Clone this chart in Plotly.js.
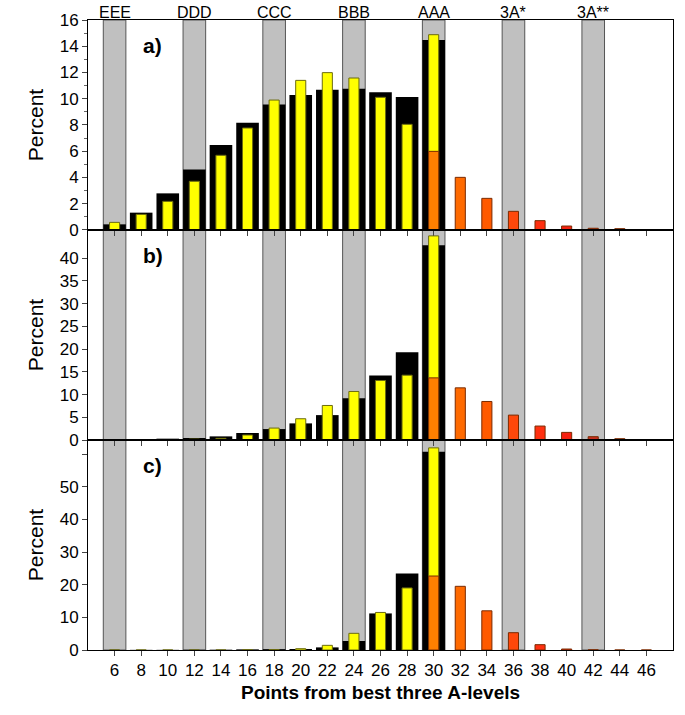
<!DOCTYPE html>
<html>
<head>
<meta charset="utf-8">
<script src="https://cdn.plot.ly/plotly-3.0.1.min.js"></script>
<style>html,body{margin:0;padding:0;background:#fff;}#chart{width:685px;height:715px;}</style>
</head>
<body>
<div id="chart"></div>
<script>
// ---- data ----
const points = [6, 8, 10, 12, 14, 16, 18, 20, 22, 24, 26, 28, 30];
const starPoints = [30, 32, 34, 36, 38, 40, 42, 44, 46];
const bandPoints = [6, 12, 18, 24, 30, 36, 42];
const bandLabels = ['EEE', 'DDD', 'CCC', 'BBB', 'AAA', '3A*', '3A**'];
const xTicks = [6, 8, 10, 12, 14, 16, 18, 20, 22, 24, 26, 28, 30, 32, 34, 36, 38, 40, 42, 44, 46];

const blackA  = [0.43, 1.32, 2.79, 4.6, 6.48, 8.18, 9.57, 10.29, 10.69, 10.77, 10.49, 10.13, 14.48];
const yellowA = [0.58, 1.19, 2.18, 3.71, 5.69, 7.77, 9.9, 11.4, 11.99, 11.58, 10.11, 8.05, 14.88];
const orangeA = [5.99, 4.01, 2.41, 1.42, 0.71, 0.30, 0.13, 0.10, 0];

const blackB  = [0.05, 0.15, 0.3, 0.45, 0.8, 1.54, 2.41, 3.66, 5.48, 9.21, 14.19, 19.3, 42.85];
const yellowB = [0, 0.05, 0.1, 0.2, 0.37, 1.1, 2.63, 4.68, 7.6, 10.68, 13.09, 14.26, 44.9];
const orangeB = [13.67, 11.48, 8.48, 5.48, 3.07, 1.68, 0.73, 0.29, 0];

const blackC  = [0, 0.05, 0.05, 0.05, 0.1, 0.2, 0.25, 0.3, 0.8, 2.76, 11.2, 23.4, 60.7];
const yellowC = [0, 0, 0, 0, 0, 0.05, 0.1, 0.4, 1.43, 5.1, 11.5, 19.0, 61.9];
const orangeC = [22.65, 19.5, 12.0, 5.3, 1.63, 0.3, 0.05, 0, 0];

const panelLabels = ['a)', 'b)', 'c)'];
const yRanges = [[0, 16], [0, 46.2], [0, 64.3]];
const yTickVals = [[0, 2, 4, 6, 8, 10, 12, 14, 16], [0, 5, 10, 15, 20, 25, 30, 35, 40], [0, 10, 20, 30, 40, 50, 60]];
const yTickText = [['0', '2', '4', '6', '8', '10', '12', '14', '16'], ['0', '5', '10', '15', '20', '25', '30', '35', '40'], ['0', '10', '20', '30', '40', '50', '']];

// ---- styles ----
const orangeColors = ['#FF8000', '#FF6A00', '#FF5A00', '#FF480A', '#FF3010', '#F52010', '#C83020', '#A03838', '#903030'];
const FONT = 'Liberation Sans, Arial, sans-serif';
const bandW = 1.7, blackW = 1.7, thinW = 0.76;

const panels = [[blackA, yellowA, orangeA], [blackB, yellowB, orangeB], [blackC, yellowC, orangeC]];
const domains = [[0.6667, 1], [0.3333, 0.6667], [0, 0.3333]];

const data = [];
const shapes = [];
const annotations = [];
const layout = {
  width: 685, height: 715,
  margin: {l: 88, r: 12, t: 20, b: 65},
  paper_bgcolor: '#fff', plot_bgcolor: 'rgba(0,0,0,0)',
  barmode: 'overlay', showlegend: false,
  font: {family: FONT, color: '#000'},
};

panels.forEach((p, i) => {
  const n = i === 0 ? '' : String(i + 1);
  const xa = 'x' + n, ya = 'y' + n;
  data.push({type: 'bar', x: points, y: p[0], width: blackW, xaxis: xa, yaxis: ya,
    marker: {color: '#000', line: {color: '#000', width: 0}}, hoverinfo: 'skip'});
  data.push({type: 'bar', x: points, y: p[1], width: thinW, xaxis: xa, yaxis: ya,
    marker: {color: '#FFFF00', line: {color: '#6b6b10', width: 1}}, hoverinfo: 'skip'});
  data.push({type: 'bar', x: starPoints, y: p[2], width: thinW, xaxis: xa, yaxis: ya,
    marker: {color: orangeColors, line: {color: '#7a2a00', width: 1}}, hoverinfo: 'skip'});

  bandPoints.forEach(b => {
    shapes.push({type: 'rect', xref: xa, yref: ya + ' domain', x0: b - bandW / 2, x1: b + bandW / 2, y0: 0, y1: 1,
      fillcolor: '#C0C0C0', line: {color: '#555', width: 1}, layer: 'below'});
  });

  layout['xaxis' + n] = {
    domain: [0, 1], anchor: ya, range: [4, 48], showgrid: false, zeroline: false,
    showline: true, linecolor: '#000', linewidth: 1, mirror: true,
    ticks: 'outside', ticklen: 5, tickcolor: '#444', tickwidth: 1,
    tickvals: xTicks, ticktext: xTicks.map(String),
    showticklabels: i === 2, tickfont: {family: FONT, size: 17, color: '#000'},
    title: i === 2 ? {text: '<b>Points from best three A-levels</b>', font: {family: FONT, size: 19, color: '#000'}, standoff: 6} : {text: ''},
  };
  if (i > 0) layout['xaxis' + n].matches = 'x';
  layout['yaxis' + n] = {
    domain: domains[i], anchor: xa, range: yRanges[i], showgrid: false, zeroline: false,
    showline: true, linecolor: '#000', linewidth: 1, mirror: true,
    ticks: 'outside', ticklen: 5, tickcolor: '#444', tickwidth: 1,
    tickvals: yTickVals[i], ticktext: yTickText[i],
    tickfont: {family: FONT, size: 17, color: '#000'},
    title: {text: 'Percent', font: {family: FONT, size: 21, color: '#000'}, standoff: 10},
  };
  if (i === 0) layout['yaxis' + n].minor = {ticks: 'outside', dtick: 1, ticklen: 3, tickcolor: '#666'};

  annotations.push({xref: 'paper', yref: ya + ' domain', x: 0.09, y: 0.88, xanchor: 'left', yanchor: 'middle',
    text: '<b>' + panelLabels[i] + '</b>', showarrow: false, font: {family: FONT, size: 21, color: '#000'}});
});

bandPoints.forEach((b, k) => {
  annotations.push({xref: 'x', yref: 'paper', x: b, y: 1, yanchor: 'bottom', yshift: -3,
    text: bandLabels[k], showarrow: false, font: {family: FONT, size: 16, color: '#000'}});
});

layout.shapes = shapes;
layout.annotations = annotations;

Plotly.newPlot('chart', data, layout, {staticPlot: true, displayModeBar: false});
</script>
</body>
</html>
